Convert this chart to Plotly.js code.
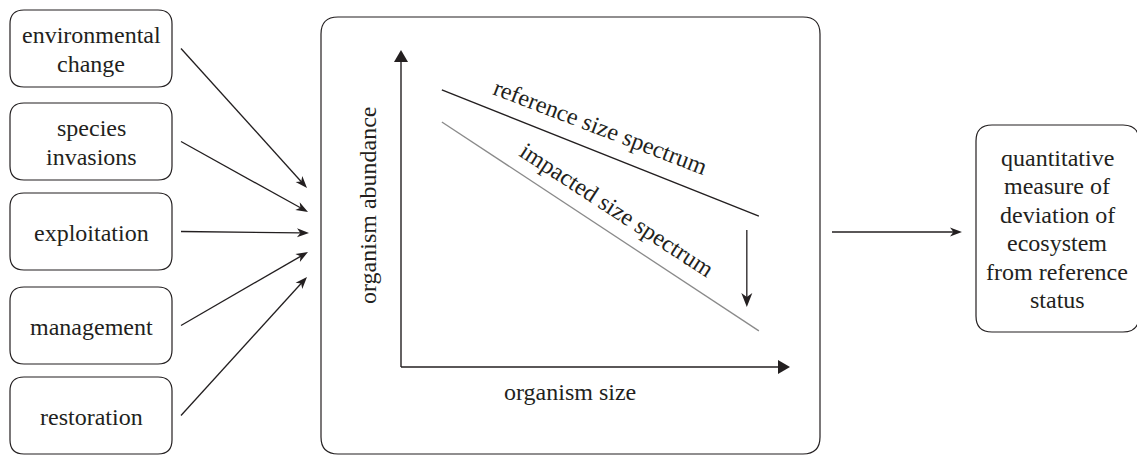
<!DOCTYPE html>
<html><head><meta charset="utf-8">
<script src="https://cdn.plot.ly/plotly-3.0.1.min.js"></script>
<style>html,body{margin:0;padding:0;background:#fff}#chart{width:1137px;height:455px}#chart text{font-family:'Liberation Serif',serif !important}</style>
</head><body><div id="chart"></div>
<script>
// ---- data ----
const driverLines = [['environmental','change'],['species','invasions'],['exploitation'],['management'],['restoration']];
const outcomeLines = ['quantitative','measure of','deviation of','ecosystem','from reference','status'];
const sizeValues = [1.05, 9.2];
const referenceSpectrum = [8.74, 4.76];
const impactedSpectrum = [7.73, 1.14];
const xTitle = 'organism size';
const yTitle = 'organism abundance';
const refLabel = 'reference size spectrum';
const impLabel = 'impacted size spectrum';

// ---- styles / layout ----
const INK = '#231f20';
const FAMILY = 'Liberation Serif';
function F(){ return {family: FAMILY, size: 24, color: INK}; }
const LH = 28.5;
const IX0 = 401, IX1 = 790, IY0 = 367, IY1 = 50;
const px = v => IX0 + v*(IX1-IX0)/10;
const py = v => IY0 - v*(IY0-IY1)/10;

function rr(x0,y0,x1,y1,r){
  return `M${x0+r},${y0} L${x1-r},${y0} Q${x1},${y0} ${x1},${y0+r} L${x1},${y1-r} Q${x1},${y1} ${x1-r},${y1} L${x0+r},${y1} Q${x0},${y1} ${x0},${y1-r} L${x0},${y0+r} Q${x0},${y0} ${x0+r},${y0} Z`;
}

const shapes = [];
const annotations = [];

function textBlock(lines, cx, cy){
  const n = lines.length;
  lines.forEach((t,i)=>{
    annotations.push({xref:'x', yref:'y', x:cx, y:cy + (i-(n-1)/2)*LH, text:t,
      showarrow:false, font:F(), xanchor:'center', yanchor:'middle'});
  });
}
function arrowShape(x0,y0,x1,y1,L,W,notch,lw){
  const dx=x1-x0, dy=y1-y0, len=Math.hypot(dx,dy);
  const ux=dx/len, uy=dy/len, nx=-uy, ny=ux;
  const bx=x1-L*ux, by=y1-L*uy;
  const ax=bx+W/2*nx, ay=by+W/2*ny, cx=bx-W/2*nx, cy=by-W/2*ny;
  const mx=x1-notch*L*ux, my=y1-notch*L*uy;
  shapes.push({type:'line', xref:'x', yref:'y', x0:x0, y0:y0, x1:mx+0.5*ux, y1:my+0.5*uy, line:{color:INK,width:lw||1.3}});
  shapes.push({type:'path', xref:'x', yref:'y', path:`M${x1},${y1} L${ax},${ay} L${mx},${my} L${cx},${cy} Z`,
    fillcolor:INK, line:{width:0}});
}

// left driver boxes
const boxTops = [10, 103, 193, 287, 377];
const boxH = 77, bx0 = 10, bx1 = 172;
const targets = [[307,188],[308,212],[309,233],[308,252],[307,277]];
driverLines.forEach((lines,i)=>{
  const y0 = boxTops[i], y1 = y0+boxH, cy = (y0+y1)/2;
  shapes.push({type:'path', xref:'x', yref:'y', path: rr(bx0,y0,bx1,y1,14), line:{color:INK,width:1.2}});
  textBlock(lines, (bx0+bx1)/2, cy + 1);
  arrowShape(181, cy, targets[i][0], targets[i][1], 12, 9, 0.72, 1.3);
});

// central box
shapes.push({type:'path', xref:'x', yref:'y', path: rr(321,17,820,454,17), line:{color:INK,width:1.2}});
// right box
shapes.push({type:'path', xref:'x', yref:'y', path: rr(976,125,1139,332,16), line:{color:INK,width:1.2}});
textBlock(outcomeLines, 1057, 229);
arrowShape(832, 232, 962, 232, 12, 9, 0.72, 1.3);

// inner axes (arrows)
arrowShape(px(0), py(0), px(0), py(10), 12, 14, 1, 1.4);
arrowShape(px(0), py(0), px(10), py(0), 12, 14, 1, 1.4);
// impact arrow
arrowShape(px(8.89), py(4.32), px(8.89), py(1.89), 14, 11, 0.72, 1.3);

// axis titles & line labels
annotations.push({xref:'x', yref:'y', x:570, y:392, text:xTitle, showarrow:false, font:F()});
annotations.push({xref:'x', yref:'y', x:368, y:205, text:yTitle, showarrow:false, font:F(), textangle:-90});
annotations.push({xref:'x2', yref:'y2', x:5.12, y:7.57, text:refLabel, showarrow:false, font:F(), textangle:21});
annotations.push({xref:'x2', yref:'y2', x:5.55, y:4.95, text:impLabel, showarrow:false, font:F(), textangle:33});

const traces = [
  {x:sizeValues, y:referenceSpectrum, xaxis:'x2', yaxis:'y2', mode:'lines', line:{color:INK,width:1.4}, hoverinfo:'skip'},
  {x:sizeValues, y:impactedSpectrum, xaxis:'x2', yaxis:'y2', mode:'lines', line:{color:'#8a8a8a',width:1.3}, hoverinfo:'skip'}
];

const layout = {
  width:1137, height:455, margin:{l:0,r:0,t:0,b:0}, showlegend:false,
  font:{family:FAMILY, size:24, color:INK},
  xaxis:{range:[0,1137], visible:false, fixedrange:true, domain:[0,1]},
  yaxis:{range:[455,0], visible:false, fixedrange:true, domain:[0,1]},
  xaxis2:{range:[0,10], visible:false, fixedrange:true, domain:[IX0/1137, IX1/1137], anchor:'y2'},
  yaxis2:{range:[0,10], visible:false, fixedrange:true, domain:[(455-IY0)/455, (455-IY1)/455], anchor:'x2'},
  shapes, annotations
};
Plotly.newPlot('chart', traces, layout, {staticPlot:true, displayModeBar:false}).then(()=>{
  document.querySelectorAll('#chart text').forEach(t=>{ t.style.fontFamily = "'Liberation Serif', serif"; });
});
</script>
</body></html>
